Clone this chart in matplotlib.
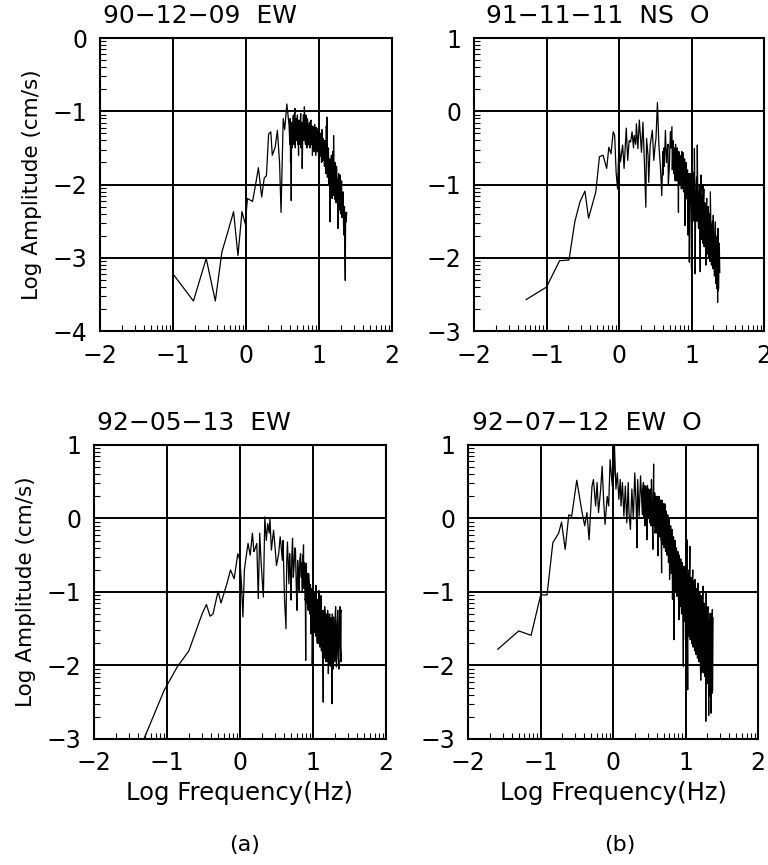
import numpy as np
import matplotlib
matplotlib.use("Agg")
import matplotlib.pyplot as plt
from matplotlib.ticker import FixedLocator

# Log amplitude spectra: (log frequency, log amplitude)
spec_901209_ew = [
    (-1.00, -3.22), (-0.72, -3.59), (-0.545, -3.01), (-0.42, -3.59), (-0.33, -2.92),
    (-0.25, -2.65), (-0.17, -2.37), (-0.11, -2.97), (-0.055, -2.37), (-0.01, -2.54),
    (0.02, -2.19), (0.09, -2.23), (0.13, -2.01), (0.17, -1.77), (0.215, -2.17),
    (0.25, -1.91), (0.28, -1.88), (0.31, -1.31), (0.34, -1.28), (0.36, -1.60),
    (0.40, -1.49), (0.43, -1.26), (0.46, -1.70), (0.48, -2.38), (0.51, -1.10),
    (0.53, -1.25), (0.56, -0.90), (0.59, -1.19), (0.60, -1.45), (0.61, -1.70),
    (0.62, -2.22), (0.63, -1.40), (0.64, -1.30), (0.65, -1.05), (0.66, -1.25),
    (0.67, -0.96), (0.68, -1.30), (0.69, -1.24), (0.70, -1.10), (0.71, -1.45),
    (0.72, -1.60), (0.73, -1.15), (0.74, -1.35), (0.75, -1.03), (0.76, -1.40),
    (0.77, -1.78), (0.78, -1.20), (0.79, -1.05), (0.80, -0.94), (0.81, -1.35),
    (0.82, -1.05), (0.83, -1.40), (0.84, -1.10), (0.85, -1.30), (0.86, -1.46),
    (0.87, -1.15), (0.88, -1.35), (0.89, -1.12), (0.90, -1.40), (0.91, -1.60),
    (0.92, -1.21), (0.93, -1.45), (0.94, -1.18), (0.95, -1.50), (0.96, -1.22),
    (0.97, -1.55), (0.98, -1.24), (0.99, -1.45), (1.00, -1.28), (1.01, -1.62),
    (1.02, -1.30), (1.03, -1.50), (1.04, -1.25), (1.05, -1.68), (1.06, -1.37),
    (1.07, -1.55), (1.08, -1.40), (1.09, -1.80), (1.10, -1.20), (1.11, -1.08),
    (1.12, -1.75), (1.13, -1.50), (1.14, -1.97), (1.15, -2.51), (1.16, -1.74),
    (1.17, -1.60), (1.18, -2.19), (1.19, -1.55), (1.20, -1.33), (1.21, -2.00),
    (1.22, -1.70), (1.23, -2.15), (1.24, -1.75), (1.25, -1.95), (1.26, -2.60),
    (1.27, -1.85), (1.28, -2.10), (1.29, -1.87), (1.30, -2.20), (1.31, -1.95),
    (1.32, -2.38), (1.33, -2.10), (1.34, -2.69), (1.35, -2.30), (1.355, -2.97),
    (1.36, -3.31), (1.365, -2.38), (1.37, -2.51), (1.38, -2.38),
]
# extra samples in the dense (solid black) stretch
dense_901209_ew = [
    (0.605, -1.10), (0.615, -1.55), (0.625, -1.15), (0.635, -1.50), (0.645, -1.08),
    (0.655, -1.45), (0.665, -1.05), (0.675, -1.50), (0.685, -1.10), (0.695, -1.40),
    (0.705, -1.05), (0.715, -1.35), (0.725, -1.12), (0.735, -1.45), (0.745, -1.10),
    (0.755, -1.50), (0.765, -1.15), (0.775, -1.45), (0.785, -1.05), (0.795, -1.40),
    (0.805, -1.10), (0.815, -1.45), (0.825, -1.15), (0.835, -1.50), (0.845, -1.12),
    (0.855, -1.40), (0.865, -1.20), (0.875, -1.50), (0.885, -1.15), (0.895, -1.45),
    (0.905, -1.20), (0.915, -1.50), (0.925, -1.25), (0.935, -1.55), (0.945, -1.25),
    (0.955, -1.60), (0.965, -1.30), (0.975, -1.55), (0.985, -1.30), (0.995, -1.65),
    (1.005, -1.35), (1.015, -1.60), (1.025, -1.40), (1.035, -1.70), (1.045, -1.45),
    (1.055, -1.60), (1.065, -1.50), (1.075, -1.75), (1.085, -1.45), (1.095, -1.85),
    (1.105, -1.55), (1.115, -1.90), (1.125, -1.55), (1.135, -2.00), (1.145, -1.65),
    (1.155, -2.10), (1.165, -1.70), (1.175, -2.05), (1.185, -1.75), (1.195, -2.15),
    (1.205, -1.80), (1.215, -2.20), (1.225, -1.85), (1.235, -2.25), (1.245, -1.90),
    (1.255, -2.30), (1.265, -1.95), (1.275, -2.35), (1.285, -2.00), (1.295, -2.40),
    (1.305, -2.05), (1.315, -2.45), (1.325, -2.20), (1.335, -2.50), (1.345, -2.30),
    (1.375, -2.45),
]

spec_911111_ns = [
    (-1.28, -2.57), (-1.00, -2.40), (-0.82, -2.04), (-0.69, -2.03), (-0.61, -1.51),
    (-0.54, -1.24), (-0.47, -1.09), (-0.42, -1.46), (-0.32, -1.10), (-0.27, -0.62),
    (-0.22, -0.60), (-0.17, -0.78), (-0.14, -0.49), (-0.11, -0.58), (-0.08, -0.28),
    (-0.06, -0.33), (-0.04, -0.83), (-0.02, -1.06), (0.00, -0.42), (0.02, -0.69),
    (0.05, -0.46), (0.07, -0.78), (0.10, -0.23), (0.12, -0.67), (0.14, -0.40),
    (0.16, -0.42), (0.18, -0.28), (0.20, -0.50), (0.21, -0.33), (0.23, -0.45),
    (0.24, -0.17), (0.26, -0.51), (0.28, -0.12), (0.30, -0.40), (0.31, -0.56),
    (0.33, -0.15), (0.35, -0.69), (0.37, -1.31), (0.38, -0.37), (0.40, -0.60),
    (0.41, -0.97), (0.43, -0.46), (0.46, -0.26), (0.48, -0.67), (0.50, -0.45),
    (0.51, -0.37), (0.53, 0.12), (0.55, -0.46), (0.57, -0.74), (0.59, -1.15),
    (0.61, -0.87), (0.62, -0.50), (0.64, -0.26), (0.66, -0.60), (0.68, -1.01),
    (0.70, -0.55), (0.71, -0.28), (0.73, -0.21), (0.74, -0.60), (0.75, -0.51),
    (0.77, -0.83), (0.78, -0.45), (0.79, -0.58), (0.80, -0.95), (0.82, -1.38),
    (0.83, -0.70), (0.84, -0.60), (0.85, -0.95), (0.86, -1.06), (0.87, -0.65),
    (0.88, -0.56), (0.89, -1.10), (0.90, -0.80), (0.91, -1.56), (0.92, -0.95),
    (0.93, -0.78), (0.94, -1.20), (0.95, -1.69), (0.96, -0.90), (0.97, -2.06),
    (0.98, -1.10), (0.99, -0.97), (1.00, -2.15), (1.01, -1.20), (1.02, -0.83),
    (1.03, -1.30), (1.04, -0.51), (1.05, -2.22), (1.06, -1.24), (1.07, -0.90),
    (1.08, -0.46), (1.09, -1.30), (1.10, -1.60), (1.11, -1.00), (1.12, -2.19),
    (1.13, -0.87), (1.14, -1.30), (1.15, -1.47), (1.16, -1.00), (1.17, -1.06),
    (1.18, -1.50), (1.19, -1.69), (1.20, -2.10), (1.21, -1.19), (1.22, -1.60),
    (1.23, -1.30), (1.24, -1.83), (1.25, -1.40), (1.26, -1.10), (1.27, -1.70),
    (1.28, -1.97), (1.29, -1.50), (1.30, -1.42), (1.31, -2.00), (1.32, -2.24),
    (1.33, -1.51), (1.34, -2.30), (1.35, -2.42), (1.355, -1.70), (1.36, -2.61),
    (1.365, -1.60), (1.37, -2.45), (1.38, -1.80), (1.39, -2.20),
]
dense_911111_ns = [
    (0.605, -0.55), (0.625, -0.75), (0.645, -0.40), (0.655, -0.70), (0.675, -0.45),
    (0.695, -0.75), (0.715, -0.50), (0.735, -0.80), (0.745, -0.40), (0.755, -0.85),
    (0.765, -0.50), (0.775, -0.95), (0.785, -0.55), (0.795, -0.75), (0.805, -0.50),
    (0.815, -0.90), (0.825, -0.55), (0.835, -1.00), (0.845, -0.65), (0.855, -0.80),
    (0.865, -0.55), (0.875, -1.05), (0.885, -0.70), (0.895, -1.00), (0.905, -0.65),
    (0.915, -1.10), (0.925, -0.70), (0.935, -1.15), (0.945, -0.80), (0.955, -1.25),
    (0.965, -0.85), (0.975, -1.30), (0.985, -0.85), (0.995, -1.40), (1.005, -0.90),
    (1.015, -1.45), (1.025, -0.95), (1.035, -1.50), (1.045, -1.00), (1.055, -1.55),
    (1.065, -1.00), (1.075, -1.50), (1.085, -1.05), (1.095, -1.60), (1.105, -1.10),
    (1.115, -1.70), (1.125, -1.15), (1.135, -1.75), (1.145, -1.15), (1.155, -1.80),
    (1.165, -1.20), (1.175, -1.85), (1.185, -1.25), (1.195, -1.90), (1.205, -1.30),
    (1.215, -1.95), (1.225, -1.35), (1.235, -2.00), (1.245, -1.40), (1.255, -2.05),
    (1.265, -1.45), (1.275, -2.10), (1.285, -1.55), (1.295, -2.15), (1.305, -1.60),
    (1.315, -2.25), (1.325, -1.70), (1.335, -2.35), (1.345, -1.80), (1.375, -2.40),
    (1.385, -1.90),
]

spec_920513_ew = [
    (-1.32, -3.01), (-1.04, -2.34), (-0.86, -2.02), (-0.70, -1.80), (-0.61, -1.55),
    (-0.52, -1.30), (-0.46, -1.17), (-0.41, -1.33), (-0.37, -1.30), (-0.30, -0.99),
    (-0.26, -1.15), (-0.18, -0.89), (-0.13, -0.70), (-0.08, -0.82), (-0.03, -0.48),
    (0.00, -0.57), (0.02, -0.89), (0.04, -1.34), (0.06, -0.70), (0.08, -0.55),
    (0.11, -0.34), (0.14, -0.50), (0.17, -0.20), (0.19, -0.45), (0.20, -0.43),
    (0.23, -0.34), (0.25, -1.09), (0.27, -0.20), (0.29, -0.61), (0.32, -1.07),
    (0.34, 0.02), (0.36, -0.30), (0.38, -0.07), (0.40, -0.20), (0.41, 0.00),
    (0.43, -0.43), (0.46, -0.16), (0.48, -0.39), (0.50, -0.64), (0.53, -0.48),
    (0.55, -0.25), (0.56, -0.34), (0.58, -0.57), (0.59, -0.30), (0.61, -1.11),
    (0.63, -1.50), (0.64, -0.60), (0.65, -0.32), (0.67, -0.89), (0.68, -0.48),
    (0.69, -0.70), (0.70, -1.11), (0.71, -0.50), (0.72, -0.27), (0.73, -0.80),
    (0.74, -0.66), (0.75, -0.40), (0.76, -0.43), (0.77, -0.90), (0.78, -1.25),
    (0.79, -0.57), (0.80, -0.75), (0.81, -0.98), (0.82, -0.55), (0.83, -0.48),
    (0.84, -0.80), (0.85, -0.89), (0.86, -0.50), (0.87, -0.36), (0.88, -0.85),
    (0.89, -1.11), (0.90, -1.93), (0.91, -0.61), (0.92, -0.90), (0.93, -1.20),
    (0.94, -0.75), (0.95, -0.89), (0.96, -1.30), (0.97, -1.57), (0.98, -1.10),
    (0.99, -1.98), (1.00, -1.07), (1.01, -1.30), (1.02, -1.52), (1.03, -1.10),
    (1.04, -0.91), (1.05, -1.40), (1.06, -1.70), (1.07, -1.20), (1.08, -0.98),
    (1.09, -1.45), (1.10, -1.57), (1.11, -1.05), (1.12, -1.60), (1.13, -1.89),
    (1.14, -2.50), (1.15, -1.40), (1.16, -1.20), (1.17, -1.70), (1.18, -1.80),
    (1.19, -1.30), (1.20, -1.25), (1.21, -2.11), (1.22, -1.60), (1.23, -1.30),
    (1.24, -1.85), (1.25, -2.02), (1.26, -2.52), (1.27, -1.50), (1.28, -1.34),
    (1.29, -1.80), (1.30, -1.93), (1.31, -1.20), (1.315, -1.70), (1.32, -2.02),
    (1.33, -1.45), (1.34, -1.25), (1.345, -1.85), (1.35, -1.93), (1.36, -1.40),
    (1.37, -1.20), (1.375, -1.75), (1.38, -1.84), (1.385, -1.30), (1.39, -1.25),
]
dense_920513_ew = [
    (0.845, -0.60), (0.855, -1.00), (0.865, -0.55), (0.875, -0.95), (0.885, -0.60),
    (0.895, -1.10), (0.905, -0.70), (0.915, -1.15), (0.925, -0.75), (0.935, -1.25),
    (0.945, -0.85), (0.955, -1.30), (0.965, -0.90), (0.975, -1.40), (0.985, -0.95),
    (0.995, -1.45), (1.005, -1.00), (1.015, -1.55), (1.025, -1.00), (1.035, -1.60),
    (1.045, -1.10), (1.055, -1.65), (1.065, -1.10), (1.075, -1.70), (1.085, -1.15),
    (1.095, -1.75), (1.105, -1.20), (1.115, -1.80), (1.125, -1.25), (1.135, -1.85),
    (1.145, -1.25), (1.155, -1.90), (1.165, -1.30), (1.175, -1.95), (1.185, -1.30),
    (1.195, -1.95), (1.205, -1.35), (1.215, -1.90), (1.225, -1.30), (1.235, -2.00),
    (1.245, -1.35), (1.255, -1.95), (1.265, -1.30), (1.275, -2.05), (1.285, -1.35),
    (1.295, -1.95), (1.305, -1.30), (1.325, -2.00), (1.335, -1.35), (1.355, -2.05),
    (1.365, -1.30), (1.383, -1.95),
]

spec_920712_ew = [
    (-1.59, -1.78), (-1.30, -1.53), (-1.13, -1.59), (-1.00, -1.05), (-0.98, -1.04),
    (-0.91, -1.04), (-0.83, -0.33), (-0.75, -0.20), (-0.71, -0.05), (-0.66, -0.42),
    (-0.61, 0.05), (-0.57, 0.03), (-0.50, 0.52), (-0.43, 0.10), (-0.39, -0.10),
    (-0.36, 0.08), (-0.33, -0.29), (-0.29, 0.44), (-0.27, 0.53), (-0.24, 0.17),
    (-0.22, 0.49), (-0.20, 0.08), (-0.17, 0.40), (-0.15, 0.71), (-0.13, 0.26),
    (-0.11, -0.08), (-0.08, 0.30), (-0.06, 0.17), (-0.04, 0.80), (-0.01, 0.44),
    (0.01, 0.58), (0.02, 0.99), (0.04, 0.40), (0.06, 0.62), (0.08, 0.26),
    (0.10, 0.53), (0.11, 0.17), (0.13, 0.49), (0.15, 0.03), (0.17, 0.44),
    (0.19, -0.06), (0.21, 0.49), (0.22, 0.08), (0.24, -0.15), (0.26, 0.40),
    (0.28, -0.01), (0.30, 0.62), (0.32, 0.17), (0.33, -0.40), (0.34, 0.53),
    (0.36, 0.03), (0.38, 0.58), (0.40, 0.17), (0.41, 0.40), (0.42, 0.49),
    (0.43, 0.20), (0.44, -0.10), (0.45, 0.44), (0.46, 0.25), (0.47, -0.29),
    (0.48, 0.35), (0.49, 0.40), (0.50, 0.10), (0.51, -0.06), (0.52, 0.30),
    (0.53, 0.53), (0.54, 0.00), (0.55, -0.42), (0.56, 0.74), (0.57, 0.10),
    (0.58, -0.20), (0.59, 0.30), (0.60, 0.26), (0.61, -0.10), (0.62, -0.51),
    (0.63, 0.15), (0.64, 0.21), (0.65, -0.10), (0.66, -0.29), (0.67, -0.74),
    (0.68, 0.05), (0.69, 0.17), (0.70, -0.20), (0.71, -0.33), (0.72, 0.00),
    (0.73, 0.08), (0.74, -0.30), (0.75, -0.42), (0.76, -0.05), (0.77, -0.01),
    (0.78, -0.83), (0.79, -0.40), (0.80, -0.24), (0.81, -0.70), (0.82, -1.10),
    (0.83, -0.60), (0.84, -1.65), (0.85, -0.80), (0.86, -0.42), (0.87, -0.90),
    (0.88, -1.06), (0.89, -0.56), (0.90, -1.00), (0.91, -1.38), (0.92, -0.80),
    (0.93, -0.65), (0.94, -1.10), (0.95, -1.20), (0.96, -0.90), (0.97, -2.01),
    (0.98, -1.20), (0.99, -0.83), (1.00, -1.65), (1.01, -1.00), (1.02, -0.29),
    (1.03, -2.33), (1.04, -1.10), (1.05, -0.70), (1.06, -0.38), (1.07, -1.00),
    (1.08, -1.29), (1.09, -0.90), (1.10, -0.70), (1.11, -1.47), (1.12, -1.00),
    (1.13, -0.83), (1.14, -1.30), (1.15, -1.74), (1.16, -1.20), (1.17, -0.88),
    (1.18, -1.40), (1.19, -1.88), (1.20, -1.20), (1.21, -2.20), (1.22, -2.10),
    (1.23, -1.30), (1.24, -0.92), (1.25, -1.60), (1.26, -2.06), (1.27, -1.40),
    (1.28, -2.76), (1.285, -1.01), (1.29, -1.70), (1.30, -2.20), (1.31, -1.20),
    (1.315, -1.90), (1.32, -2.68), (1.325, -1.40), (1.33, -2.42), (1.34, -1.29),
    (1.345, -2.10), (1.35, -2.65), (1.36, -1.50), (1.365, -2.38), (1.37, -1.24),
    (1.375, -2.00), (1.38, -1.35),
]
dense_920712_ew = [
    (0.405, 0.05), (0.415, 0.45), (0.425, 0.00), (0.435, 0.45), (0.445, 0.05),
    (0.455, 0.40), (0.465, -0.05), (0.475, 0.45), (0.485, 0.00), (0.495, 0.35),
    (0.505, -0.05), (0.515, 0.40), (0.525, -0.10), (0.535, 0.35), (0.545, -0.15),
    (0.555, 0.30), (0.565, -0.10), (0.575, 0.35), (0.585, -0.15), (0.595, 0.30),
    (0.605, -0.20), (0.615, 0.30), (0.625, -0.20), (0.635, 0.30), (0.645, -0.25),
    (0.655, 0.25), (0.665, -0.30), (0.675, 0.25), (0.685, -0.35), (0.695, 0.20),
    (0.705, -0.40), (0.715, 0.20), (0.725, -0.45), (0.735, 0.10), (0.745, -0.50),
    (0.755, 0.05), (0.765, -0.60), (0.775, 0.00), (0.785, -0.65), (0.795, -0.10),
    (0.805, -0.75), (0.815, -0.15), (0.825, -0.85), (0.835, -0.25), (0.845, -0.95),
    (0.855, -0.30), (0.865, -1.00), (0.875, -0.40), (0.885, -1.05), (0.895, -0.45),
    (0.905, -1.15), (0.915, -0.50), (0.925, -1.20), (0.935, -0.55), (0.945, -1.30),
    (0.955, -0.60), (0.965, -1.35), (0.975, -0.65), (0.985, -1.40), (0.995, -0.65),
    (1.005, -1.50), (1.015, -0.70), (1.025, -1.55), (1.035, -0.75), (1.045, -1.60),
    (1.055, -0.75), (1.065, -1.65), (1.075, -0.80), (1.085, -1.70), (1.095, -0.85),
    (1.105, -1.75), (1.115, -0.85), (1.125, -1.80), (1.135, -0.90), (1.145, -1.85),
    (1.155, -0.95), (1.165, -1.90), (1.175, -1.00), (1.185, -1.95), (1.195, -1.00),
    (1.205, -2.00), (1.215, -1.05), (1.225, -2.05), (1.235, -1.10), (1.245, -2.10),
    (1.255, -1.15), (1.265, -2.15), (1.275, -1.20), (1.295, -2.25), (1.305, -1.25),
    (1.335, -2.30), (1.355, -1.30), (1.372, -2.35),
]

titles = ["90\u221212\u221209  EW", "91\u221211\u221211  NS  O",
          "92\u221205\u221213  EW", "92\u221207\u221212  EW  O"]
spectra = [spec_901209_ew, spec_911111_ns, spec_920513_ew, spec_920712_ew]
dense = [dense_901209_ew, dense_911111_ns, dense_920513_ew, dense_920712_ew]
y_ranges = [(-4, 0), (-3, 1), (-3, 1), (-3, 1)]

# axes rectangles in figure fractions (768 x 865 px)
rects = [
    [0.1302, 0.6173, 0.3802, 0.3387],
    [0.6172, 0.6173, 0.3776, 0.3387],
    [0.1224, 0.1457, 0.3802, 0.3399],
    [0.6094, 0.1457, 0.3776, 0.3399],
]
# title anchor (px) and horizontal alignment
title_pos = [(103, 16, "left"), (709, 16, "right"), (97, 423, "left"), (472, 423, "left")]

fig = plt.figure(figsize=(7.68, 8.65), dpi=100)
fig.patch.set_facecolor("white")

logk = np.log10(np.arange(2, 10))

for i in range(4):
    ax = fig.add_axes(rects[i])
    xy = np.array(spectra[i] + dense[i])
    xy = xy[np.argsort(xy[:, 0], kind="stable")]
    ax.plot(xy[:, 0], xy[:, 1], color="black", lw=0.9)

    lo, hi = y_ranges[i]
    ax.set_xlim(-2, 2)
    ax.set_ylim(lo, hi)
    ax.set_xticks(range(-2, 3))
    ax.set_yticks(range(lo, hi + 1))
    ax.xaxis.set_minor_locator(FixedLocator([d + k for d in range(-2, 2) for k in logk]))
    ax.yaxis.set_minor_locator(FixedLocator([d + k for d in range(lo, hi) for k in logk]))
    ax.grid(True, which="major", color="black", lw=1.4)
    ax.tick_params(which="major", length=0, labelsize=17, pad=9)
    ax.tick_params(which="minor", direction="in", length=4, width=0.8,
                   left=True, bottom=True, right=False, top=False)
    for s in ax.spines.values():
        s.set_linewidth(1.5)

    tx, ty, tha = title_pos[i]
    fig.text(tx / 768, 1 - ty / 865, titles[i], fontsize=18, ha=tha, va="center")

    if i % 2 == 0:
        ax.set_ylabel("Log Amplitude (cm/s)", fontsize=15.5, labelpad=8)
    if i >= 2:
        ax.set_xlabel("Log Frequency(Hz)", fontsize=17.5, labelpad=4)

fig.text(245 / 768, 1 - 845 / 865, "(a)", fontsize=16, ha="center", va="center")
fig.text(620 / 768, 1 - 845 / 865, "(b)", fontsize=16, ha="center", va="center")

fig.savefig("out.png", dpi=100)
